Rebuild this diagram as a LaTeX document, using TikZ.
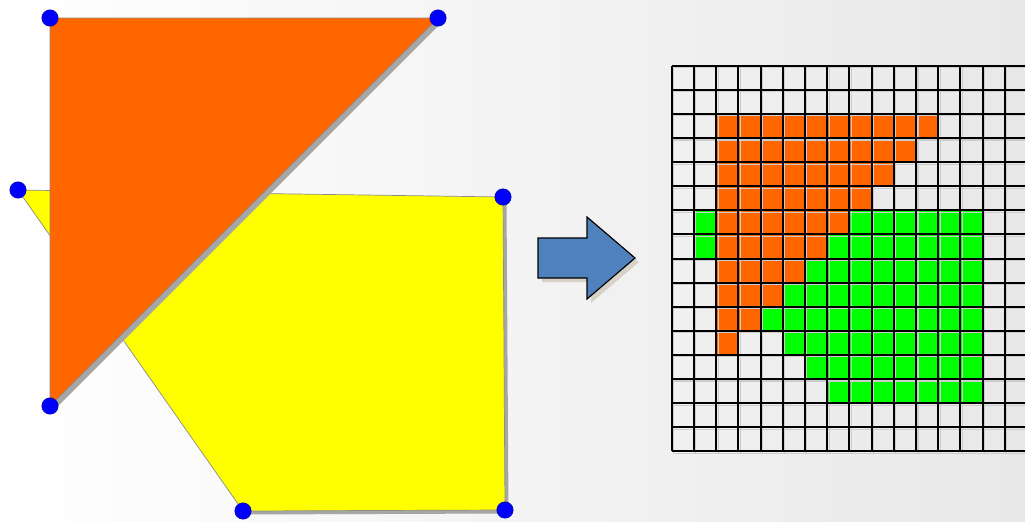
\documentclass[tikz,border=0pt]{standalone}
\usetikzlibrary{calc}
\definecolor{tri}{RGB}{255,102,0}
\definecolor{quad}{RGB}{255,255,0}
\definecolor{pix}{RGB}{0,255,0}
\definecolor{arrowblue}{RGB}{79,129,189}
\definecolor{vertex}{RGB}{0,0,255}
\definecolor{shadowtan}{RGB}{214,210,198}

\begin{document}
\begin{tikzpicture}[x=0.85pt,y=-0.85pt,
    edge/.style={draw=black!45,line width=0.6pt},
    gridline/.style={line width=1.7pt,black}]
  \useasboundingbox (0,0) rectangle (1025,521);
  \clip (0,0) rectangle (1025,521);
  \shade[left color=white,right color=black!9] (0,0) rectangle (1025,521);
  % the two polygons
  \coordinate (A) at (50,18); \coordinate (B) at (438,18);
  \coordinate (C) at (50,406);
  \coordinate (P) at (18,190); \coordinate (Q) at (503,197);
  \coordinate (R) at (505,510); \coordinate (S) at (243,511);
  \fill[black!35] ($(P)+(3.5,3.5)$)--($(Q)+(3.5,3.5)$)--($(R)+(3.5,3.5)$)--($(S)+(3.5,3.5)$)--cycle;
  \fill[quad,edge] (P)--(Q)--(R)--(S)--cycle;
  \fill[black!35] ($(A)+(4,4)$)--($(B)+(4,4)$)--($(C)+(4,4)$)--cycle;
  \fill[tri,edge] (A)--(B)--(C)--cycle;
  \foreach \p in {A,B,C,P,Q,R,S}
    \filldraw[fill=vertex,draw=vertex!60!black,line width=0.4pt] (\p) circle(7pt);
  % arrow
  \fill[shadowtan] (542,242)--(591,242)--(591,221)--(639,262)--(591,303)
    --(591,282)--(542,282)--cycle;
  \filldraw[fill=arrowblue,draw=black,line width=1pt] (538,238)--(587,238)
    --(587,217)--(635,258)--(587,299)--(587,278)--(538,278)--cycle;
  % raster grid
  \def\gx{671.7} \def\gy{65.7} \def\cw{22.2} \def\ch{24.1}
  \foreach \r/\a/\b in {2/2/11,3/2/10,4/2/9,5/2/8,6/2/7,7/2/6,8/2/5,9/2/4,
      10/2/3,11/2/2}
    \fill[tri] (\gx+\a*\cw,\gy+\r*\ch) rectangle (\gx+\b*\cw+\cw,\gy+\r*\ch+\ch);
  \foreach \r/\a/\b in {6/1/1,6/8/13,7/1/1,7/7/13,8/6/13,9/5/13,10/4/13,
      11/5/13,12/6/13,13/7/13}
    \fill[pix] (\gx+\a*\cw,\gy+\r*\ch) rectangle (\gx+\b*\cw+\cw,\gy+\r*\ch+\ch);
  \foreach \k in {0,...,16} {
    \draw[gridline,black!20,line width=1pt] (\gx+\k*\cw+2,\gy+2) -- (\gx+\k*\cw+2,\gy+16*\ch+2);
    \draw[gridline,black!20,line width=1pt] (\gx+2,\gy+\k*\ch+2) -- (\gx+16*\cw+2,\gy+\k*\ch+2);
  }
  \foreach \k in {0,...,16} {
    \draw[gridline] (\gx+\k*\cw,\gy) -- (\gx+\k*\cw,\gy+16*\ch);
    \draw[gridline] (\gx,\gy+\k*\ch) -- (\gx+16*\cw,\gy+\k*\ch);
  }
\end{tikzpicture}
\end{document}
